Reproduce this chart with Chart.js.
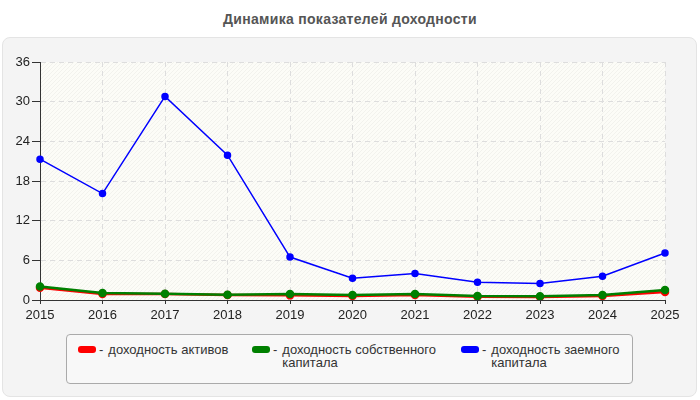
<!DOCTYPE html>
<html>
<head>
<meta charset="utf-8">
<script src="https://cdn.jsdelivr.net/npm/chart.js@4.4.1/dist/chart.umd.min.js"></script>
<style>
body { margin: 0; width: 700px; height: 400px; background: #fff; font-family: "Liberation Sans", Arial, sans-serif; position: relative; overflow: hidden; }
#title { position: absolute; left: 0; top: 11px; width: 700px; text-align: center; font-weight: bold; font-size: 14px; color: #555; letter-spacing: 0.3px; }
#panel { position: absolute; left: 2px; top: 37px; width: 693px; height: 358px; background: #f4f4f4; border: 1px solid #e4e4e4; border-radius: 8px; }
#chart { position: absolute; left: 0; top: 0; }
#legend { position: absolute; left: 66px; top: 334px; width: 565px; height: 48px; background: #f8f8f8; border: 1px solid #aaa; border-radius: 4px; }
.item { position: absolute; top: 8px; display: flex; font-size: 13px; color: #333; line-height: 13px; }
.sw { width: 18px; height: 7px; border-radius: 3px; margin-top: 3px; margin-right: 3px; }
.dash { margin-right: 5px; }
</style>
</head>
<body>
<div id="title">Динамика показателей доходности</div>
<div id="panel"></div>
<canvas id="chart" width="700" height="400"></canvas>
<div id="legend"></div>
<script>
const years = ['2015', '2016', '2017', '2018', '2019', '2020', '2021', '2022', '2023', '2024', '2025'];
const seriesNames = ['доходность активов', 'доходность собственного капитала', 'доходность заемного капитала'];
const legendTexts = ['доходность активов', 'доходность собственного<br>капитала', 'доходность заемного<br>капитала'];
const roa = [1.85, 0.9, 0.9, 0.75, 0.7, 0.6, 0.75, 0.5, 0.45, 0.6, 1.2];
const roe = [2.05, 1.05, 0.95, 0.8, 0.9, 0.76, 0.9, 0.6, 0.55, 0.75, 1.5];
const rod = [21.3, 16.1, 30.8, 21.9, 6.5, 3.3, 4.0, 2.7, 2.5, 3.6, 7.1];
const colors = ['#ff0000', '#008000', '#0000ff'];
const yTicks = [0, 6, 12, 18, 24, 30, 36];

// легенда
const legendLeft = [11, 185, 394];
const legend = document.getElementById('legend');
legendTexts.forEach((t, i) => {
    const d = document.createElement('div');
    d.className = 'item';
    d.style.left = legendLeft[i] + 'px';
    d.innerHTML = '<div class="sw" style="background:' + colors[i] + '"></div><span class="dash">-</span><span>' + t + '</span>';
    legend.appendChild(d);
});

// штриховка фона
function makeHatch() {
    const c = document.createElement('canvas');
    c.width = 4; c.height = 4;
    const g = c.getContext('2d');
    g.fillStyle = '#fcfcf7';
    g.fillRect(0, 0, 4, 4);
    g.strokeStyle = 'rgba(0,0,0,0.04)';
    g.lineWidth = 1;
    g.beginPath();
    g.moveTo(0, 4); g.lineTo(4, 0);
    g.moveTo(-1, 1); g.lineTo(1, -1);
    g.moveTo(3, 5); g.lineTo(5, 3);
    g.stroke();
    return g.createPattern(c, 'repeat');
}

const hatchPlugin = {
    id: 'hatch',
    beforeDraw(chart) {
        const a = chart.chartArea;
        const ctx = chart.ctx;
        ctx.save();
        ctx.fillStyle = makeHatch();
        ctx.fillRect(a.left, a.top, a.right - a.left, a.bottom - a.top);
        ctx.restore();
    }
};

function ds(label, data, color, order, width) {
    return {
        label: label, data: data, borderColor: color, backgroundColor: color,
        borderWidth: width, pointRadius: 3, pointHoverRadius: 3, tension: 0, order: order
    };
}

new Chart(document.getElementById('chart'), {
    type: 'line',
    data: {
        labels: years,
        datasets: [
            ds(seriesNames[0], roa, colors[0], 3, 2.5),
            ds(seriesNames[1], roe, colors[1], 2, 2.5),
            ds(seriesNames[2], rod, colors[2], 1, 1.5)
        ]
    },
    plugins: [hatchPlugin],
    options: {
        responsive: false,
        animation: false,
        layout: { padding: { left: 0, right: 35, top: 62, bottom: 70 } },
        plugins: { legend: { display: false }, title: { display: false }, tooltip: { enabled: false } },
        scales: {
            x: {
                offset: false,
                grid: { color: '#dddddd', tickColor: '#333', tickLength: 4 },
                border: { display: true, color: '#333', dash: [5, 4] },
                ticks: { color: '#222', font: { size: 13, family: '"Liberation Sans", Arial' }, padding: 4, maxRotation: 0 },
                afterFit: s => { s.height = 30; }
            },
            y: {
                min: 0, max: 36,
                afterBuildTicks: s => { s.ticks = yTicks.map(v => ({ value: v })); },
                grid: { color: '#dddddd', tickColor: '#333', tickLength: 8 },
                border: { display: true, color: '#333', dash: [5, 4] },
                ticks: { color: '#222', font: { size: 13, family: '"Liberation Sans", Arial' }, padding: 2 },
                afterFit: s => { s.width = 40; }
            }
        }
    }
});
</script>
</body>
</html>
